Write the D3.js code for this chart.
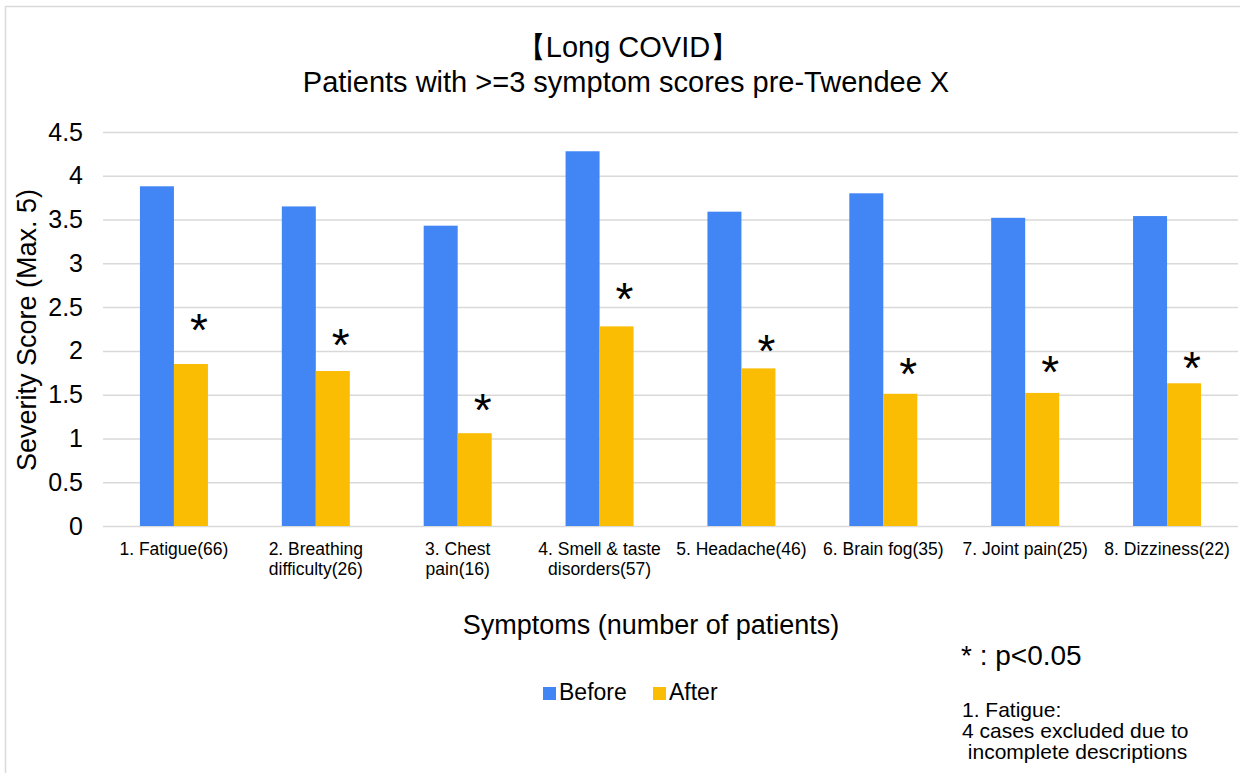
<!DOCTYPE html>
<html>
<head>
<meta charset="utf-8">
<script src="https://cdn.jsdelivr.net/npm/d3@7"></script>
<style>
  body { margin: 0; background: #fff; }
  text { font-family: "Liberation Sans", Arial, sans-serif; fill: #000; }
</style>
</head>
<body>
<div class="chart-container"></div>
<script>
// symptom categories (two lines each, as on the axis)
var symptoms = [
    ["1. Fatigue(66)"],
    ["2. Breathing", "difficulty(26)"],
    ["3. Chest", "pain(16)"],
    ["4. Smell & taste", "disorders(57)"],
    ["5. Headache(46)"],
    ["6. Brain fog(35)"],
    ["7. Joint pain(25)"],
    ["8. Dizziness(22)"]
];
var before = [3.88, 3.65, 3.43, 4.28, 3.59, 3.80, 3.52, 3.54];
var after = [1.85, 1.77, 1.06, 2.28, 1.80, 1.51, 1.52, 1.63];
// level (in score units) where each significance star sits
var starLevel = [2.32, 2.15, 1.40, 2.67, 2.08, 1.82, 1.84, 1.89];
var yTicks = [0, 0.5, 1, 1.5, 2, 2.5, 3, 3.5, 4, 4.5];
var seriesNames = ["Before", "After"];
var colors = ["#4285F4", "#FBBC04"];

var width = 1240, height = 773;
var margin = { top: 132, right: 2, bottom: 247, left: 103 },
    plotW = width - margin.left - margin.right,
    plotH = height - margin.top - margin.bottom;

var svg = d3.select('.chart-container')
    .append('svg')
    .attr("width", width)
    .attr("height", height);

// outer chart border
svg.append("rect")
    .attr("x", 5.5)
    .attr("y", 6.5)
    .attr("width", width)
    .attr("height", height)
    .attr("fill", "none")
    .attr("stroke", "#d9d9d9")
    .attr("stroke-width", 1.5);

svg.append("text")
    .attr("x", 628)
    .attr("y", 57)
    .attr("text-anchor", "middle")
    .style("font-size", "29px")
    .text("【Long COVID】");

svg.append("text")
    .attr("x", 626)
    .attr("y", 92)
    .attr("text-anchor", "middle")
    .style("font-size", "29px")
    .text("Patients with >=3 symptom scores pre-Twendee X");

var g = svg.append("g")
    .attr("transform", "translate(" + margin.left + "," + margin.top + ")");

var x = d3.scaleBand()
    .domain(d3.range(symptoms.length))
    .range([0, plotW]);

var y = d3.scaleLinear()
    .domain([0, 4.5])
    .range([plotH, 0]);

var barW = 34;

// gridlines
var yAxis = d3.axisLeft(y)
    .tickValues(yTicks)
    .tickSize(-plotW)
    .tickPadding(20)
    .tickFormat(d3.format(""));

var yAxisG = g.append("g").call(yAxis);
yAxisG.select(".domain").remove();
yAxisG.selectAll(".tick line")
    .attr("stroke", "#d9d9d9")
    .attr("stroke-width", 1.5);
yAxisG.selectAll(".tick text")
    .style("font-size", "25px")
    .attr("fill", "#000");

// bars
var groups = g.selectAll(".cat")
    .data(symptoms)
    .enter().append("g")
    .attr("transform", function(d, i) {
        return "translate(" + (x(i) + x.bandwidth() / 2) + ",0)";
    });

groups.append("rect")
    .attr("x", -barW)
    .attr("width", barW)
    .attr("y", function(d, i) { return y(before[i]); })
    .attr("height", function(d, i) { return plotH - y(before[i]); })
    .attr("fill", colors[0]);

groups.append("rect")
    .attr("x", 0)
    .attr("width", barW)
    .attr("y", function(d, i) { return y(after[i]); })
    .attr("height", function(d, i) { return plotH - y(after[i]); })
    .attr("fill", colors[1]);

// significance stars
groups.append("text")
    .attr("x", barW / 2 + 8)
    .attr("y", function(d, i) { return y(starLevel[i]) + 23; })
    .attr("text-anchor", "middle")
    .style("font-size", "46px")
    .text("*");

// category labels
var lbl = groups.append("text")
    .attr("text-anchor", "middle")
    .style("font-size", "17.5px");
lbl.selectAll("tspan")
    .data(function(d) { return d; })
    .enter().append("tspan")
    .attr("x", 0)
    .attr("y", function(d, j) { return plotH + 29 + j * 20; })
    .text(function(d) { return d; });

// axis titles
svg.append("text")
    .attr("transform", "translate(36,330) rotate(-90)")
    .attr("text-anchor", "middle")
    .style("font-size", "27px")
    .text("Severity Score (Max. 5)");

svg.append("text")
    .attr("x", 651)
    .attr("y", 634)
    .attr("text-anchor", "middle")
    .style("font-size", "27px")
    .text("Symptoms (number of patients)");

// legend
var legend = svg.append("g");
var legendX = [543, 653];
seriesNames.forEach(function(name, i) {
    legend.append("rect")
        .attr("x", legendX[i])
        .attr("y", 687)
        .attr("width", 13)
        .attr("height", 13)
        .attr("fill", colors[i]);
    legend.append("text")
        .attr("x", legendX[i] + 16)
        .attr("y", 700)
        .style("font-size", "23px")
        .text(name);
});

// notes
svg.append("text")
    .attr("x", 961)
    .attr("y", 665)
    .style("font-size", "28px")
    .text("* : p<0.05");

var notes = ["1. Fatigue:", "4 cases excluded due to", " incomplete descriptions"];
svg.append("text")
    .style("font-size", "21px")
    .attr("xml:space", "preserve")
    .selectAll("tspan")
    .data(notes)
    .enter().append("tspan")
    .attr("x", 962)
    .attr("y", function(d, i) { return 717 + i * 21; })
    .text(function(d) { return d; });
</script>
</body>
</html>
